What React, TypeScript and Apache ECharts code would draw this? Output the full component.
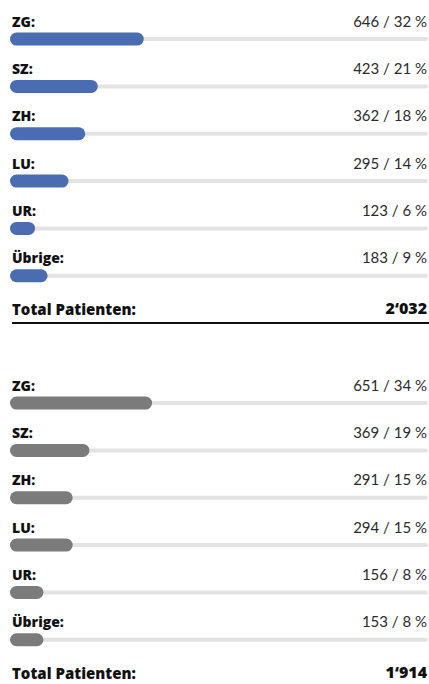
import React, { useEffect, useRef } from "react";
import * as echarts from "echarts";

const regions = ["ZG", "SZ", "ZH", "LU", "UR", "Übrige"];
const valuesTop = [646, 423, 362, 295, 123, 183];
const percentTop = [32, 21, 18, 14, 6, 9];
const valuesBottom = [651, 369, 291, 294, 156, 153];
const percentBottom = [34, 19, 15, 15, 8, 8];
const totalLabel = "Total Patienten:";

const FONT = "Lato, 'Noto Sans', sans-serif";
const BOLD_FONT = "'Open Sans', Lato, sans-serif";
const BLUE = "#4a6db1";
const GREY = "#7b7b7b";
const TRACK = "#e3e3e3";

const fmtTotal = (n: number) => {
  const s = String(n);
  return s.replace(/\B(?=(\d{3})+(?!\d))/g, "\u2018");
};

export default function App() {
  const ref = useRef<HTMLDivElement>(null);
  useEffect(() => {
    document.body.style.margin = "0";
    const chart = echarts.init(ref.current!, null, { renderer: "svg" });
    const panels = [
      { values: valuesTop, pct: percentTop, color: BLUE, top: 15.4 },
      { values: valuesBottom, pct: percentBottom, color: GREY, top: 379.4 },
    ];
    const grids: any[] = [];
    const xAxes: any[] = [];
    const yAxes: any[] = [];
    const series: any[] = [];
    panels.forEach((p, i) => {
      grids.push({ left: 10, right: 1, top: p.top, height: 284 });
      xAxes.push({ type: "value", min: 0, max: 100, show: false, gridIndex: i });
      yAxes.push({ type: "category", data: regions, inverse: true, show: false, gridIndex: i });
      yAxes.push({ type: "category", data: regions, inverse: true, show: false, gridIndex: i });
      series.push({
        type: "bar",
        xAxisIndex: i,
        yAxisIndex: i * 2 + 1,
        data: regions.map(() => 100),
        barWidth: 4,
        silent: true,
        itemStyle: { color: TRACK, borderRadius: 2 },
        label: {
          show: true,
          position: ["100%", -16.5],
          offset: [-1, 0],
          align: "right",
          verticalAlign: "middle",
          fontFamily: FONT,
          fontSize: 15,
          color: "#2b2b2b",
          formatter: (d: any) => `${p.values[d.dataIndex]} / ${p.pct[d.dataIndex]} %`,
        },
      });
      series.push({
        type: "bar",
        xAxisIndex: i,
        yAxisIndex: i * 2,
        data: p.pct,
        barWidth: 13,
        silent: true,
        itemStyle: { color: p.color, borderRadius: 6.5 },
        label: {
          show: true,
          position: [2, -11.5],
          align: "left",
          verticalAlign: "middle",
          fontFamily: BOLD_FONT,
          fontSize: 14,
          fontWeight: 800,
          color: "#111",
          formatter: (d: any) => `${d.name}:`,
        },
      });
    });
    const totTop = valuesTop.reduce((a, b) => a + b, 0);
    const totBottom = valuesBottom.reduce((a, b) => a + b, 0);
    const totalText = (y: number, total: number) => [
      {
        type: "text",
        left: 12,
        top: y - 11,
        style: { text: totalLabel, font: `800 15px ${BOLD_FONT}`, fill: "#111" },
      },
      {
        type: "text",
        right: 2,
        top: y - 12,
        style: { text: fmtTotal(total), font: `800 16px ${BOLD_FONT}`, fill: "#111" },
      },
    ];
    chart.setOption({
      animation: false,
      grid: grids,
      xAxis: xAxes,
      yAxis: yAxes,
      series,
      graphic: [
        ...totalText(312, totTop),
        {
          type: "line",
          shape: { x1: 12, y1: 323, x2: 429, y2: 323 },
          style: { stroke: "#111", lineWidth: 2 },
        },
        ...totalText(676, totBottom),
      ],
    });
    return () => chart.dispose();
  }, []);
  return <div ref={ref} style={{ width: 429, height: 684 }} />;
}
